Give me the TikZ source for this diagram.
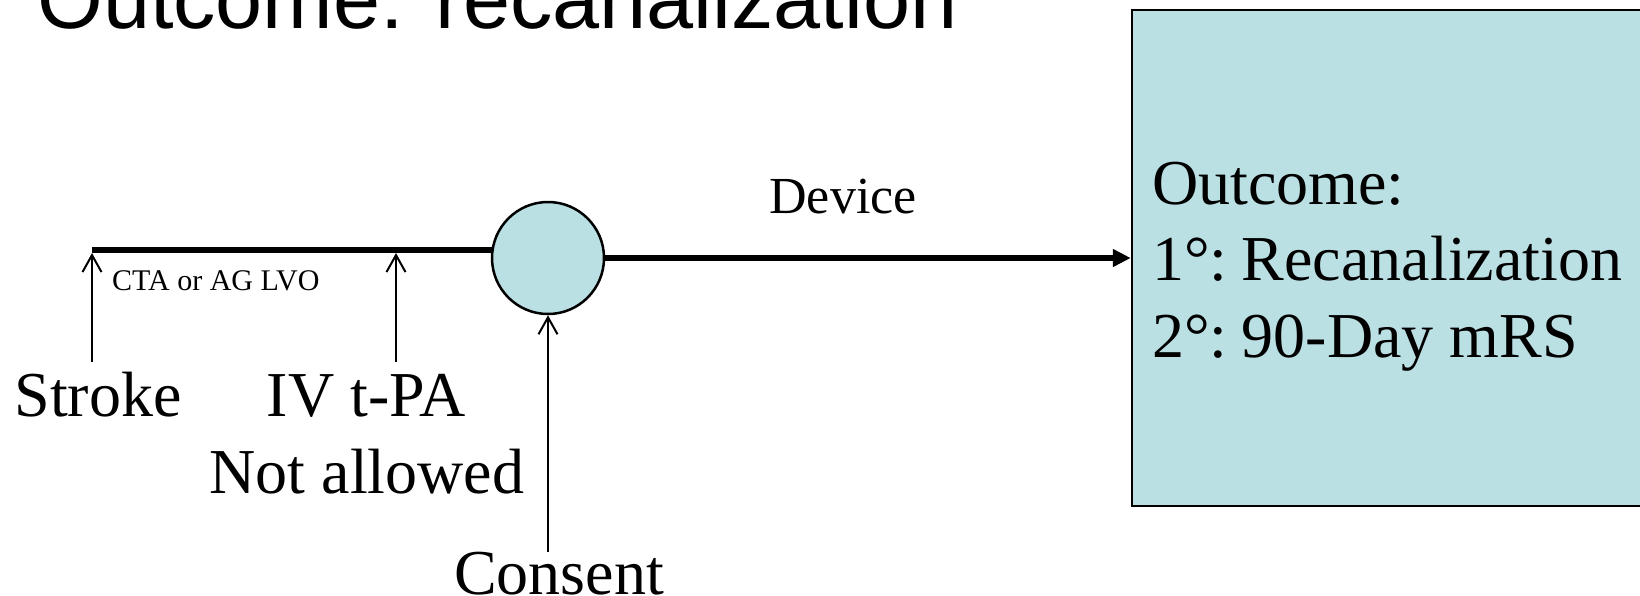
\documentclass[tikz,border=0pt]{standalone}
\usepackage{fontspec}
\setmainfont{Liberation Serif}
\newfontfamily\titlefont{Liberation Sans}
\usetikzlibrary{arrows.meta}
\definecolor{lblue}{RGB}{187,224,227}
\tikzset{
  thickline/.style={line width=6.5pt},
  thinarrow/.style={line width=2pt,-{Straight Barb[length=17pt,width=19pt,line width=2pt]}},
  lbl/.style={inner sep=0pt,font=\fontsize{64}{77}\selectfont},
  smalllbl/.style={inner sep=0pt,font=\fontsize{30}{36}\selectfont},
}
\begin{document}
\begin{tikzpicture}[x=1pt,y=-1pt]
\useasboundingbox (0,0) rectangle (1640,595);
\clip (0,0) rectangle (1640,595);
% title
\node[inner sep=0pt,anchor=base west,font=\titlefont\fontsize{84.6}{100}\selectfont] (title) at (37,28) {Outcome: recanalization};
% outcome box
\node[draw,line width=2.5pt,fill=lblue,minimum width=580pt,minimum height=496pt,inner sep=0pt] (box) at (1422,258) {};
\node[lbl,anchor=base west] (o1) at (1152,204) {Outcome:};
\node[lbl,anchor=base west] (o2) at (1152,280) {1°:\kern-7pt{} Recanalization};
\node[lbl,anchor=base west] (o3) at (1152,357) {2°:\kern-7pt{} 90-Day mRS};
% timeline
\coordinate (s) at (92,250);
\coordinate (cc) at (548,258);
\draw[thickline] (s) -- (s -| cc);
\node[circle,draw,line width=2.5pt,fill=lblue,minimum size=112pt,inner sep=0pt] (c) at (cc) {};
\draw[thickline,-{Triangle[length=18pt,width=17pt]}] (c.east) -- (box.west);
\node[inner sep=0pt,anchor=base,font=\fontsize{52}{62}\selectfont] (dev) at (843,213) {Device};
% arrows
\coordinate (sb) at (92,362);
\coordinate (st) at (92,253);
\coordinate (ib) at (396,362);
\coordinate (it) at (396,253);
\coordinate (cb) at (548,552);
\draw[thinarrow] (sb) -- (st);
\draw[thinarrow] (ib) -- (it);
\draw[thinarrow] (cb) -- (c.south);
\node[smalllbl,anchor=base west] (cta) at (112,290) {CTA or AG LVO};
\node[lbl,anchor=base] (stroke) at (98,416) {Stroke};
\node[lbl,anchor=base] (iv) at (366,416) {IV t-PA};
\node[lbl,anchor=base] (na) at (367,493) {Not allowed};
\node[lbl,anchor=base] (cons) at (559,594) {Consent};
\end{tikzpicture}
\end{document}
